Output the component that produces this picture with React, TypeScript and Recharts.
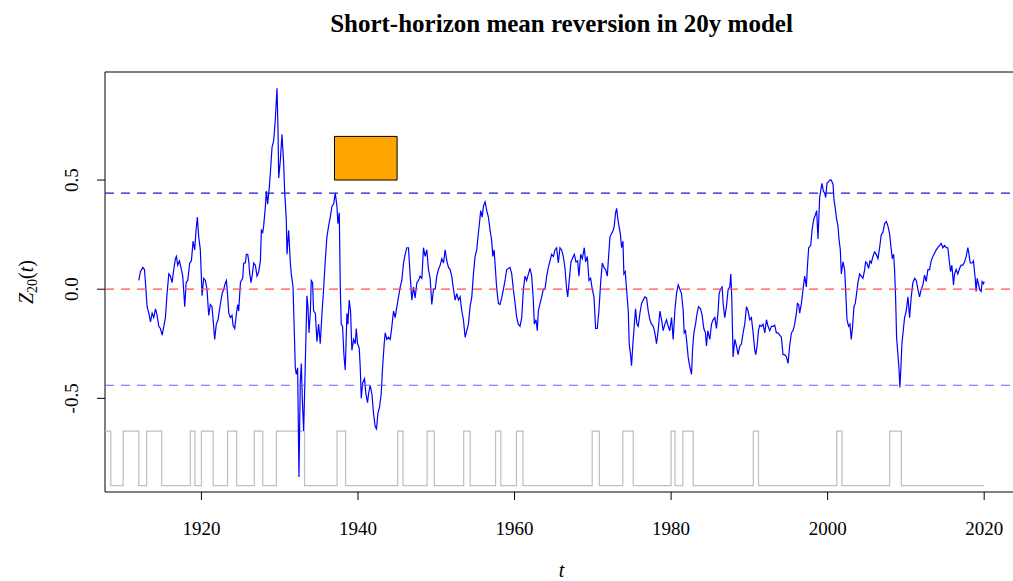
import React from "react";
import { ComposedChart, Line, XAxis, YAxis, ReferenceLine, ReferenceArea } from "recharts";

// ---- data ----
const zYears = [
  1912.0, 1912.21, 1912.51, 1912.72, 1912.85, 1913.06, 1913.28, 1913.49, 1913.7, 1913.91,
  1914.13, 1914.34, 1914.55, 1914.76, 1914.98, 1915.19, 1915.4, 1915.61, 1915.83, 1916.04,
  1916.25, 1916.46, 1916.68, 1916.8, 1916.97, 1917.19, 1917.44, 1917.61, 1917.87, 1918.04,
  1918.25, 1918.5, 1918.72, 1918.93, 1919.14, 1919.31, 1919.48, 1919.65, 1919.86, 1920.08,
  1920.29, 1920.5, 1920.71, 1920.93, 1921.14, 1921.35, 1921.56, 1921.69, 1921.9, 1922.12,
  1922.41,
  1922.64, 1922.85, 1923.06, 1923.19, 1923.36, 1923.49, 1923.7, 1923.91, 1924.04, 1924.25,
  1924.47, 1924.64, 1924.76, 1924.98, 1925.1, 1925.27, 1925.4, 1925.61, 1925.74, 1925.91,
  1926.04, 1926.17, 1926.34, 1926.51, 1926.68, 1926.89, 1927.1, 1927.32, 1927.53, 1927.66,
  1927.83, 1927.95, 1928.17, 1928.29, 1928.46, 1928.68, 1928.8, 1929.02, 1929.23, 1929.44,
  1929.65, 1929.78, 1929.87, 1930.08, 1930.29, 1930.5, 1930.63, 1930.84, 1930.93, 1931.14,
  1931.36, 1931.48, 1931.7, 1931.87, 1931.99, 1932.12, 1932.29, 1932.46, 1932.63, 1932.76,
  1932.89, 1933.06, 1933.27, 1933.48, 1933.61, 1933.74, 1933.91, 1934.03, 1934.2, 1934.33,
  1934.55, 1934.76, 1934.97, 1935.18, 1935.4, 1935.61, 1935.82, 1936.03, 1936.25, 1936.46,
  1936.67, 1936.88,
  1937.1, 1937.31, 1937.44, 1937.61, 1937.74, 1937.86, 1938.03, 1938.2, 1938.37, 1938.59,
  1938.71, 1938.88, 1939.05, 1939.22, 1939.44, 1939.65, 1939.78, 1939.95, 1940.16, 1940.29,
  1940.42, 1940.59, 1940.84, 1941.01, 1941.22, 1941.35, 1941.56, 1941.78, 1941.99, 1942.2,
  1942.37, 1942.54, 1942.75, 1942.97, 1943.14, 1943.35, 1943.48, 1943.69, 1943.9, 1944.12,
  1944.33, 1944.54, 1944.75, 1944.97, 1945.18, 1945.39, 1945.6, 1945.82, 1946.03, 1946.24,
  1946.45, 1946.67, 1946.88, 1947.09, 1947.3, 1947.52, 1947.73, 1947.94, 1948.16, 1948.37,
  1948.58, 1948.79, 1949.01, 1949.22, 1949.43, 1949.65, 1949.86, 1950.07, 1950.28, 1950.5,
  1950.71, 1950.92, 1951.13, 1951.35, 1951.56,
  1951.77, 1951.98, 1952.2, 1952.41, 1952.62, 1952.84, 1953.05, 1953.26, 1953.47, 1953.69,
  1953.9, 1954.11, 1954.32, 1954.54, 1954.75, 1954.96, 1955.17, 1955.39, 1955.51, 1955.68,
  1955.86, 1956.03, 1956.24, 1956.45, 1956.66, 1956.88, 1957.09, 1957.22, 1957.39, 1957.56,
  1957.73, 1957.94, 1958.15, 1958.36, 1958.58, 1958.79, 1959.0, 1959.22, 1959.43, 1959.64,
  1959.85, 1960.07, 1960.28, 1960.49, 1960.7, 1960.92, 1961.13, 1961.34, 1961.55, 1961.77,
  1961.98, 1962.19, 1962.4, 1962.53, 1962.74, 1962.91, 1963.04, 1963.26, 1963.47, 1963.68,
  1963.89, 1964.11, 1964.32, 1964.53, 1964.74, 1964.96, 1965.17, 1965.38, 1965.59, 1965.81,
  1966.02, 1966.23,
  1966.45, 1966.66, 1966.79, 1966.96, 1967.21, 1967.38, 1967.64, 1967.85, 1968.06, 1968.23,
  1968.45, 1968.66, 1968.91, 1969.08, 1969.3, 1969.51, 1969.72, 1969.93, 1970.15, 1970.36,
  1970.57, 1970.78, 1971.0, 1971.21, 1971.42, 1971.63, 1971.85, 1971.98, 1972.19, 1972.4,
  1972.61, 1972.74, 1972.91, 1973.04, 1973.17, 1973.34, 1973.51, 1973.68, 1973.85, 1973.97,
  1974.14, 1974.31, 1974.53, 1974.65, 1974.82, 1974.95, 1975.12, 1975.29, 1975.46, 1975.63,
  1975.8, 1976.02, 1976.23, 1976.44, 1976.65, 1976.87, 1977.08, 1977.29, 1977.5, 1977.72,
  1977.93, 1978.14, 1978.35, 1978.57, 1978.78, 1978.99, 1979.21, 1979.42, 1979.63, 1979.84,
  1980.06, 1980.27, 1980.48, 1980.69, 1980.91,
  1981.12, 1981.33, 1981.55, 1981.67, 1981.84, 1981.97, 1982.18, 1982.31, 1982.48, 1982.61,
  1982.74, 1982.91, 1983.12, 1983.33, 1983.5, 1983.76, 1983.97, 1984.18, 1984.39, 1984.52,
  1984.69, 1984.95, 1985.16, 1985.37, 1985.59, 1985.8, 1986.01, 1986.14, 1986.31, 1986.52,
  1986.65, 1986.86, 1987.07, 1987.29, 1987.5, 1987.63, 1987.75, 1987.92, 1988.14, 1988.35,
  1988.56, 1988.78, 1988.99, 1989.2, 1989.41, 1989.63, 1989.84, 1990.05, 1990.26, 1990.48,
  1990.69, 1990.82, 1990.99, 1991.16, 1991.33, 1991.54, 1991.75, 1991.97, 1992.18, 1992.39,
  1992.6, 1992.82, 1993.03, 1993.24, 1993.45, 1993.67, 1993.88, 1994.09, 1994.3, 1994.52,
  1994.73, 1994.94, 1995.15, 1995.37, 1995.58,
  1995.79, 1996.01, 1996.14, 1996.3, 1996.43, 1996.65, 1996.86, 1997.07, 1997.28, 1997.41,
  1997.58, 1997.84, 1998.01, 1998.22, 1998.43, 1998.6, 1998.77, 1998.98, 1999.11, 1999.28,
  1999.45, 1999.62, 1999.75, 1999.92, 2000.05, 2000.26, 2000.47, 2000.69, 2000.81, 2000.98,
  2001.15, 2001.32, 2001.45, 2001.62, 2001.75, 2001.96, 2002.17, 2002.3, 2002.47, 2002.68,
  2002.85, 2003.02, 2003.19, 2003.36, 2003.53, 2003.7, 2003.87, 2004.09, 2004.3, 2004.51,
  2004.73, 2004.85, 2005.02, 2005.24, 2005.41, 2005.58, 2005.79, 2006.0, 2006.21, 2006.43,
  2006.64, 2006.85, 2007.06, 2007.28, 2007.49, 2007.7, 2007.91, 2008.13, 2008.26, 2008.43,
  2008.55, 2008.68, 2008.81, 2008.98, 2009.11, 2009.23, 2009.36, 2009.49, 2009.66, 2009.83,
  2010.04,
  2010.26, 2010.47, 2010.68, 2010.89, 2011.11, 2011.32, 2011.53, 2011.74, 2011.96, 2012.17,
  2012.38, 2012.59, 2012.81, 2013.02, 2013.23, 2013.44, 2013.66, 2013.87, 2014.08, 2014.29,
  2014.51, 2014.72, 2014.93, 2015.15, 2015.36, 2015.57, 2015.7, 2015.87, 2016.08, 2016.21,
  2016.42, 2016.63, 2016.85, 2017.06, 2017.27, 2017.49, 2017.7, 2017.91, 2018.04, 2018.21,
  2018.46, 2018.63, 2018.85, 2018.97, 2019.1, 2019.27, 2019.4, 2019.61, 2019.74, 2019.91,
  2020.0,
];

const zValues = [
  0.04, 0.08, 0.1, 0.09, 0.03, -0.08, -0.11, -0.15, -0.11, -0.13,
  -0.09, -0.12, -0.17, -0.18, -0.21, -0.17, -0.13, -0.02, 0.07, 0.06,
  0.03, 0.09, 0.14, 0.15, 0.11, 0.13, 0.09, 0.06, -0.08, 0.03,
  0.04, 0.12, 0.13, 0.22, 0.18, 0.27, 0.33, 0.24, 0.18, -0.03,
  0.05, 0.04, 0.0, -0.12, -0.07, -0.08, -0.17, -0.23, -0.16, -0.14,
  -0.07,
  -0.02, 0.0, 0.03, 0.04, -0.035, -0.11, -0.13, -0.12, -0.165, -0.18,
  -0.11, -0.07, -0.1, 0.03, 0.04, 0.05, 0.12, 0.12, 0.16, 0.16,
  0.13, 0.07, 0.03, 0.07, 0.12, 0.11, 0.06, 0.08, 0.13, 0.27,
  0.26, 0.29, 0.38, 0.45, 0.39, 0.47, 0.53, 0.65, 0.68, 0.78,
  0.92, 0.74, 0.51, 0.59, 0.71, 0.58, 0.45, 0.32, 0.16, 0.27,
  0.12, 0.07, 0.01, -0.2, -0.36, -0.39, -0.36, -0.86, -0.42, -0.34,
  -0.51, -0.65, -0.34, -0.03, -0.08, -0.2, -0.11, 0.04, 0.03, -0.1,
  -0.11, -0.24, -0.16, -0.25, -0.11, 0.0, 0.13, 0.24, 0.29, 0.33,
  0.38, 0.39,
  0.44, 0.38, 0.3, 0.35, 0.01, -0.16, -0.17, -0.3, -0.37, -0.11,
  -0.16, -0.05, -0.1, -0.28, -0.23, -0.25, -0.18, -0.25, -0.27, -0.36,
  -0.5, -0.43, -0.41, -0.48, -0.52, -0.48, -0.44, -0.48, -0.57, -0.63,
  -0.64, -0.57, -0.54, -0.48, -0.36, -0.25, -0.2, -0.23, -0.22, -0.23,
  -0.17, -0.1, -0.13, -0.08, -0.035, 0.01, 0.04, 0.12, 0.16, 0.19,
  0.19, 0.06, -0.05, 0.01, -0.04, 0.03, 0.04, 0.06, 0.05, 0.19,
  0.15, 0.18, 0.09, 0.05, -0.07, 0.0, 0.0, 0.06, 0.09, 0.11,
  0.14, 0.12, 0.18, 0.13, 0.1,
  0.09, 0.06, 0.0, -0.05, -0.02, -0.05, -0.035, -0.1, -0.14, -0.22,
  -0.19, -0.16, -0.08, -0.035, 0.07, 0.15, 0.18, 0.26, 0.3, 0.36,
  0.33, 0.38, 0.4, 0.36, 0.33, 0.27, 0.22, 0.15, 0.18, 0.09,
  0.0, -0.065, -0.07, -0.04, 0.0, 0.04, 0.09, 0.095, 0.1, 0.07,
  0.0, -0.065, -0.13, -0.16, -0.17, -0.13, 0.0, 0.06, 0.04, 0.07,
  0.095, 0.06, -0.05, -0.16, -0.14, -0.19, -0.1, -0.065, -0.035, 0.0,
  0.0, 0.06, 0.1, 0.13, 0.16, 0.15, 0.18, 0.19, 0.12, 0.19,
  0.18, 0.15,
  0.095, 0.0, -0.035, 0.03, 0.125, 0.14, 0.16, 0.125, 0.13, 0.06,
  0.16, 0.14, 0.19, 0.125, 0.15, 0.04, 0.05, 0.0, -0.035, -0.18,
  -0.18, -0.1, 0.03, 0.12, 0.1, 0.09, 0.06, 0.13, 0.24, 0.255,
  0.27, 0.29, 0.35, 0.37, 0.33, 0.29, 0.255, 0.19, 0.22, 0.07,
  0.08, 0.0, -0.1, -0.25, -0.3, -0.35, -0.25, -0.17, -0.09, -0.16,
  -0.17, -0.11, -0.065, -0.05, -0.035, -0.04, -0.1, -0.14, -0.16, -0.17,
  -0.2, -0.25, -0.19, -0.1, -0.14, -0.19, -0.16, -0.14, -0.17, -0.19,
  -0.13, -0.23, -0.1, -0.02, 0.02,
  0.0, -0.02, -0.1, -0.2, -0.19, -0.23, -0.31, -0.34, -0.37, -0.39,
  -0.28, -0.2, -0.16, -0.11, -0.08, -0.09, -0.12, -0.18, -0.2, -0.26,
  -0.19, -0.23, -0.16, -0.14, -0.13, -0.18, -0.1, -0.02, 0.0, 0.01,
  -0.065, -0.13, -0.08, 0.0, 0.01, 0.07, -0.035, -0.31, -0.23, -0.26,
  -0.3, -0.26, -0.25, -0.2, -0.16, -0.08, -0.1, -0.14, -0.13, -0.2,
  -0.28, -0.3, -0.26, -0.19, -0.165, -0.17, -0.16, -0.2, -0.14, -0.17,
  -0.19, -0.17, -0.17, -0.165, -0.2, -0.2, -0.21, -0.22, -0.3, -0.3,
  -0.31, -0.34, -0.26, -0.2, -0.19,
  -0.16, -0.11, -0.065, -0.07, -0.11, -0.065, 0.0, 0.06, 0.01, 0.1,
  0.19, 0.2, 0.27, 0.32, 0.34, 0.36, 0.23, 0.42, 0.45, 0.485,
  0.45, 0.44, 0.42, 0.485, 0.49, 0.5, 0.5, 0.48, 0.41, 0.37,
  0.32, 0.29, 0.23, 0.18, 0.07, 0.125, 0.09, 0.0, -0.14, -0.17,
  -0.16, -0.23, -0.17, -0.08, -0.065, -0.02, 0.03, 0.07, 0.06, 0.05,
  0.09, 0.125, 0.12, 0.095, 0.13, 0.12, 0.15, 0.17, 0.16, 0.14,
  0.19, 0.25, 0.26, 0.3, 0.31, 0.29, 0.255, 0.18, 0.14, 0.16,
  0.09, -0.035, -0.22, -0.3, -0.36, -0.45, -0.36, -0.25, -0.19, -0.13,
  -0.1,
  -0.035, -0.13, -0.035, 0.03, 0.05, 0.04, 0.0, -0.035, 0.0, 0.02,
  0.065, 0.035, 0.09, 0.09, 0.13, 0.15, 0.165, 0.18, 0.19, 0.2,
  0.21, 0.19, 0.2, 0.19, 0.19, 0.12, 0.08, 0.11, 0.02, 0.07,
  0.09, 0.07, 0.095, 0.11, 0.11, 0.125, 0.15, 0.19, 0.165, 0.12,
  0.12, 0.13, 0.05, -0.01, 0.05, 0.025, 0.0, -0.01, 0.035, 0.025,
  0.035,
];

// NBER recession periods (peak month .. trough month), drawn as a grey on/off step line
const recessionStarts = [
  1907.33, 1910.0, 1913.0, 1918.58, 1920.0, 1923.33, 1926.75, 1929.58, 1937.33, 1945.08,
  1948.83, 1953.5, 1957.58, 1960.25, 1969.92, 1973.83, 1980.0, 1981.5, 1990.5, 2001.17,
  2007.92,
];
const recessionEnds = [
  1908.42, 1912.0, 1914.92, 1919.17, 1921.5, 1924.5, 1927.83, 1933.17, 1938.42, 1945.75,
  1949.75, 1954.33, 1958.25, 1961.08, 1970.83, 1975.17, 1980.5, 1982.83, 1991.17, 2001.83,
  2009.42,
];
const recessionOnLevel = -0.65;
const recessionOffLevel = -0.9;
const recessionSeriesEnd = 2020.0;

const thresholdLevel = 0.44;
const markerYears = [1937, 1945];
const markerLevels = [0.5, 0.7];

const xTicks = [1920, 1940, 1960, 1980, 2000, 2020];
const yTicks = [-0.5, 0, 0.5];
const xDomain: [number, number] = [1907.68, 2024.32];
const yDomain: [number, number] = [-0.929, 0.995];

const titleText = "Short-horizon mean reversion in 20y model";

// ---- build the table the library needs ----
type Row = { t: number; z?: number; rec?: number };
const rows: Row[] = [];
zYears.forEach((t, i) => rows.push({ t, z: zValues[i] }));
recessionStarts.forEach((s, i) => {
  rows.push({ t: s, rec: recessionOffLevel });
  rows.push({ t: s, rec: recessionOnLevel });
  rows.push({ t: recessionEnds[i], rec: recessionOnLevel });
  rows.push({ t: recessionEnds[i], rec: recessionOffLevel });
});
rows.push({ t: recessionSeriesEnd, rec: recessionOffLevel });
rows.sort((a, b) => a.t - b.t);

const FONT = "'Liberation Serif', 'DejaVu Serif', serif";

const XTick = (props: any) => {
  const { x, y, payload } = props;
  return (
    <text x={x} y={y + 33} textAnchor="middle" fontFamily={FONT} fontSize={19} fill="#000">
      {payload.value}
    </text>
  );
};

const YTick = (props: any) => {
  const { x, y, payload } = props;
  const bx = x - 17;
  return (
    <text
      x={bx}
      y={y}
      transform={`rotate(-90 ${bx} ${y})`}
      textAnchor="middle"
      fontFamily={FONT}
      fontSize={19}
      fill="#000"
    >
      {Number(payload.value).toFixed(1)}
    </text>
  );
};

const YLabel = (props: any) => {
  const vb = props.viewBox || { x: 0, y: 72, width: 105, height: 420 };
  const cx = vb.x + 33;
  const cy = vb.y + vb.height / 2;
  return (
    <text
      x={cx}
      y={cy}
      transform={`rotate(-90 ${cx} ${cy})`}
      textAnchor="middle"
      fontFamily={FONT}
      fontSize={20}
      fill="#000"
    >
      <tspan fontStyle="italic">Z</tspan>
      <tspan fontSize={14} dy={4}>20</tspan>
      <tspan dy={-4}>(</tspan>
      <tspan fontStyle="italic">t</tspan>
      <tspan>)</tspan>
    </text>
  );
};

const XLabel = (props: any) => {
  const vb = props.viewBox || { x: 105, y: 492, width: 913, height: 89 };
  return (
    <text
      x={vb.x + vb.width / 2}
      y={vb.y + 85}
      textAnchor="middle"
      fontFamily={FONT}
      fontStyle="italic"
      fontSize={20}
      fill="#000"
    >
      t
    </text>
  );
};

export default function App() {
  return (
    <div
      style={{
        position: "absolute",
        left: 0,
        top: 0,
        width: 1013,
        height: 581,
        overflow: "hidden",
        background: "#fff",
      }}
    >
      <ComposedChart
        width={1013}
        height={581}
        data={rows}
        margin={{ top: 72, right: -5, bottom: 0, left: 0 }}
      >
        <XAxis
          dataKey="t"
          type="number"
          domain={xDomain}
          ticks={xTicks}
          allowDataOverflow
          axisLine={false}
          tickLine={{ stroke: "#000" }}
          tickSize={8}
          height={89}
          tick={<XTick />}
          label={{ content: <XLabel /> }}
          interval={0}
        />
        <YAxis
          type="number"
          domain={yDomain}
          ticks={yTicks}
          allowDataOverflow
          axisLine={false}
          tickLine={{ stroke: "#000" }}
          tickSize={8}
          width={105}
          tick={<YTick />}
          label={{ content: <YLabel /> }}
          interval={0}
        />
        <Line
          dataKey="rec"
          stroke="#BEBEBE"
          strokeWidth={1.2}
          dot={false}
          activeDot={false}
          connectNulls
          isAnimationActive={false}
          type="linear"
        />
        <Line
          dataKey="z"
          stroke="#0000FF"
          strokeWidth={1.2}
          dot={false}
          activeDot={false}
          connectNulls
          isAnimationActive={false}
          type="linear"
        />
        <ReferenceLine y={thresholdLevel} stroke="#1a1acc" strokeWidth={1.2} strokeDasharray="9 7" />
        <ReferenceLine y={-thresholdLevel} stroke="#6060ff" strokeWidth={1.2} strokeDasharray="9 7" />
        <ReferenceLine y={0} stroke="#ff4d4d" strokeWidth={1.2} strokeDasharray="9 7" />
        <ReferenceArea
          x1={markerYears[0]}
          x2={markerYears[1]}
          y1={markerLevels[0]}
          y2={markerLevels[1]}
          fill="#FFA500"
          fillOpacity={1}
          stroke="#000"
          strokeWidth={1}
        />
        <ReferenceArea y1={yDomain[0]} y2={yDomain[1]} fill="none" stroke="#000" strokeWidth={1} />
      </ComposedChart>
      <svg
        width={1013}
        height={581}
        style={{ position: "absolute", left: 0, top: 0, pointerEvents: "none" }}
      >
        <text
          x={561.5}
          y={32}
          textAnchor="middle"
          fontFamily={FONT}
          fontWeight="bold"
          fontSize={25}
          fill="#000"
        >
          {titleText}
        </text>
      </svg>
    </div>
  );
}
